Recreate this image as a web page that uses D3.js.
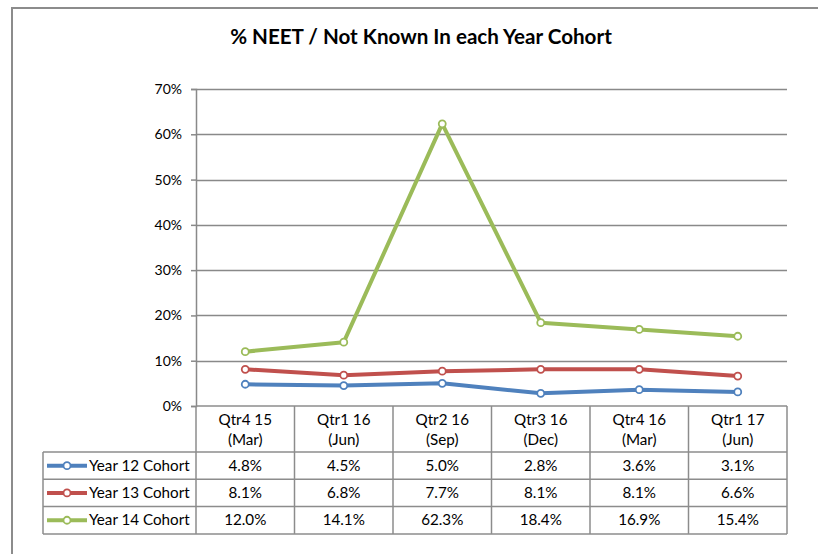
<!DOCTYPE html>
<html>
<head>
<meta charset="utf-8">
<script src="https://cdn.jsdelivr.net/npm/d3@7"></script>
<style>
  body { margin: 0; background: #fff; }
  text { font-family: Lato, "Open Sans", sans-serif; fill: #000; }
</style>
</head>
<body>
<div id="chart"></div>
<script>
// Data
var quarters = ["Qtr4 15", "Qtr1 16", "Qtr2 16", "Qtr3 16", "Qtr4 16", "Qtr1 17"];
var months = ["(Mar)", "(Jun)", "(Sep)", "(Dec)", "(Mar)", "(Jun)"];
var seriesNames = ["Year 12 Cohort", "Year 13 Cohort", "Year 14 Cohort"];
var year12 = [4.8, 4.5, 5.0, 2.8, 3.6, 3.1];
var year13 = [8.1, 6.8, 7.7, 8.1, 8.1, 6.6];
var year14 = [12.0, 14.1, 62.3, 18.4, 16.9, 15.4];
var yTicks = [0, 10, 20, 30, 40, 50, 60, 70];
var colors = ["#4f81bd", "#c0504d", "#9bbb59"];

var series = [year12, year13, year14].map(function(v, i) {
  return {name: seriesNames[i], values: v, color: colors[i]};
});

var W = 818, H = 554;
var margin = {top: 89, left: 196, right: 31};
var plotW = W - margin.left - margin.right,
    plotH = 317;
var fs = "15.2px";

var svg = d3.select("#chart").append("svg")
    .attr("width", W)
    .attr("height", H);

// Outer chart border (runs off the right and bottom)
svg.append("path")
    .attr("d", "M12," + (H + 5) + "V8H" + (W + 5))
    .attr("fill", "none")
    .attr("stroke", "#8c8c8c")
    .attr("stroke-width", 2);

// Title
svg.append("text")
    .attr("x", 421)
    .attr("y", 44)
    .attr("text-anchor", "middle")
    .style("font-size", "20.6px")
    .style("font-weight", "bold")
    .text("% NEET / Not Known In each Year Cohort");

var g = svg.append("g")
    .attr("transform", "translate(" + margin.left + "," + margin.top + ")");

var x = d3.scaleBand()
    .domain(quarters.map(function(d, i) { return i; }))
    .range([0, plotW]);

var y = d3.scaleLinear()
    .domain([0, 70])
    .range([plotH, 0]);

// Gridlines
g.append("g")
    .selectAll("line")
    .data(yTicks.slice(1))
    .enter().append("line")
    .attr("x1", 0)
    .attr("x2", plotW)
    .attr("y1", function(d) { return Math.round(y(d)) + 0.5; })
    .attr("y2", function(d) { return Math.round(y(d)) + 0.5; })
    .attr("stroke", "#898989")
    .attr("stroke-width", 1.5);

// Y axis
var yAxis = g.append("g")
    .call(d3.axisLeft(y).tickValues(yTicks).tickSize(5).tickPadding(9)
      .tickFormat(function(d) { return d + "%"; }));
yAxis.select(".domain").attr("stroke", "#898989").attr("stroke-width", 1.5);
yAxis.selectAll(".tick line").attr("stroke", "#898989").attr("stroke-width", 1.5);
yAxis.selectAll("text").style("font-size", "14px").attr("fill", "#262626");

// Lines and markers
var line = d3.line()
    .x(function(d, i) { return x(i) + x.bandwidth() / 2; })
    .y(function(d) { return y(d); });

series.forEach(function(s) {
  g.append("path")
      .datum(s.values)
      .attr("d", line)
      .attr("fill", "none")
      .attr("stroke", s.color)
      .attr("stroke-width", 4)
      .attr("stroke-linejoin", "round");
  g.selectAll(null)
      .data(s.values)
      .enter().append("circle")
      .attr("cx", function(d, i) { return x(i) + x.bandwidth() / 2; })
      .attr("cy", function(d) { return y(d); })
      .attr("r", 3.5)
      .attr("fill", "#fff")
      .attr("stroke", s.color)
      .attr("stroke-width", 1.8);
});

// Data table under the plot
var headerH = 46, rowH = 27.3, tableLeft = 43 - margin.left;
var tbl = g.append("g").attr("transform", "translate(0," + plotH + ")");
var bc = "#8c8c8c";

// x axis line
tbl.append("line")
    .attr("x1", 0).attr("x2", plotW)
    .attr("y1", 0).attr("y2", 0)
    .attr("stroke", bc).attr("stroke-width", 1.5);

// vertical column lines
tbl.selectAll(".vcol")
    .data(d3.range(quarters.length + 1))
    .enter().append("line")
    .attr("class", "vcol")
    .attr("x1", function(i) { return i < quarters.length ? x(i) : plotW; })
    .attr("x2", function(i) { return i < quarters.length ? x(i) : plotW; })
    .attr("y1", 0)
    .attr("y2", headerH + rowH * series.length)
    .attr("stroke", bc).attr("stroke-width", 1.5);

// horizontal row lines
tbl.selectAll(".hrow")
    .data(d3.range(series.length + 1))
    .enter().append("line")
    .attr("class", "hrow")
    .attr("x1", tableLeft).attr("x2", plotW)
    .attr("y1", function(i) { return headerH + rowH * i; })
    .attr("y2", function(i) { return headerH + rowH * i; })
    .attr("stroke", bc).attr("stroke-width", 1.5);

// left edge of table
tbl.append("line")
    .attr("x1", tableLeft).attr("x2", tableLeft)
    .attr("y1", headerH).attr("y2", headerH + rowH * series.length)
    .attr("stroke", bc).attr("stroke-width", 1.5);

// header labels
quarters.forEach(function(q, i) {
  var t = tbl.append("text")
      .attr("x", x(i) + x.bandwidth() / 2)
      .attr("text-anchor", "middle")
      .style("font-size", fs);
  t.append("tspan").attr("x", x(i) + x.bandwidth() / 2).attr("y", 19).text(q);
  t.append("tspan").attr("x", x(i) + x.bandwidth() / 2).attr("y", 39).text(months[i]);
});

// rows
series.forEach(function(s, r) {
  var cy = headerH + rowH * r + rowH / 2;
  // legend key
  tbl.append("line")
      .attr("x1", tableLeft + 4).attr("x2", tableLeft + 44)
      .attr("y1", cy).attr("y2", cy)
      .attr("stroke", s.color).attr("stroke-width", 4);
  tbl.append("circle")
      .attr("cx", tableLeft + 24).attr("cy", cy).attr("r", 3.5)
      .attr("fill", "#fff").attr("stroke", s.color).attr("stroke-width", 1.8);
  tbl.append("text")
      .attr("x", tableLeft + 46).attr("y", cy + 5)
      .style("font-size", fs)
      .text(s.name);
  s.values.forEach(function(v, i) {
    tbl.append("text")
        .attr("x", x(i) + x.bandwidth() / 2)
        .attr("y", cy + 5)
        .attr("text-anchor", "middle")
        .style("font-size", fs)
        .text(v.toFixed(1) + "%");
  });
});
</script>
</body>
</html>
